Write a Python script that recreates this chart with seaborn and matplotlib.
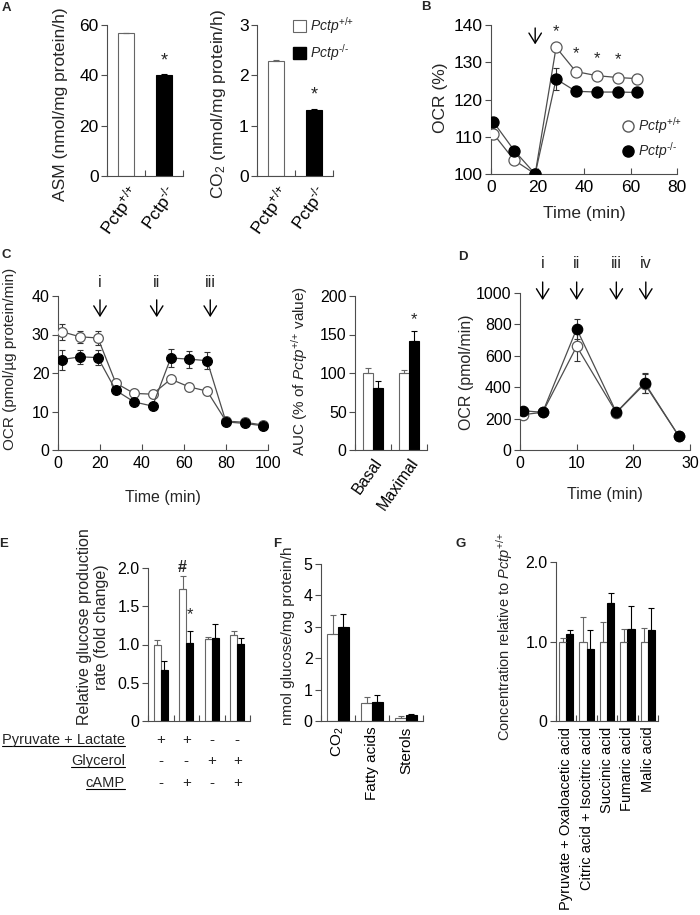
import matplotlib
matplotlib.use('Agg')
import matplotlib.pyplot as plt
import matplotlib.transforms as mtransforms
from matplotlib.lines import Line2D
from matplotlib.patches import Patch
import numpy as np
import pandas as pd
import seaborn as sns

sns.set_style('ticks')
plt.rcParams['font.family'] = ['Liberation Sans', 'DejaVu Sans']
plt.rcParams['mathtext.fontset'] = 'custom'
plt.rcParams['mathtext.rm'] = 'Liberation Sans'
plt.rcParams['mathtext.it'] = 'Liberation Sans:italic'
plt.rcParams['mathtext.bf'] = 'Liberation Sans:bold'
plt.rcParams['axes.edgecolor'] = '0.3'
plt.rcParams['axes.linewidth'] = 0.8
plt.rcParams['xtick.color'] = '0.3'
plt.rcParams['ytick.color'] = '0.3'
plt.rcParams['xtick.labelcolor'] = 'black'
plt.rcParams['ytick.labelcolor'] = 'black'

# ---- data ----
genotypes = [r'Pctp$^{\text{+/+}}$', r'Pctp$^{\text{-/-}}$']
legend_labels = [r'$\it{Pctp}^{\text{+/+}}$', r'$\it{Pctp}^{\text{-/-}}$']

# A
asm_mean = [56.7, 40.0]
asm_err = [0.3, 0.6]
co2_mean = [2.28, 1.32]
co2_err = [0.03, 0.02]

# B
b_time = [1, 10, 19, 28, 36.5, 45.5, 54.5, 63]
b_wt = [110.8, 103.7, 100, 134, 127.5, 126.4, 125.9, 125.6]
b_wt_err = [1.3, 0.6, 0.3, 0.6, 0.6, 0.6, 1.0, 1.3]
b_ko = [114, 106.3, 100, 125.5, 122.2, 122.0, 122.0, 121.9]
b_ko_err = [1.2, 0.8, 0.3, 3.0, 1.2, 0.6, 0.6, 1.0]

# C
c_time = [2, 10.5, 19, 27.5, 36.2, 45, 53.7, 62.4, 71, 80, 89, 97.5]
c_wt = [30.7, 29.4, 29.1, 17.4, 14.7, 14.5, 18.4, 16.4, 15.3, 7.5, 7.2, 6.5]
c_wt_err = [2.1, 1.5, 1.8, 0.8, 0.6, 0.6, 0.6, 0.6, 0.8, 0.5, 0.4, 0.4]
c_ko = [23.5, 24.2, 24.0, 15.5, 12.5, 11.4, 23.9, 23.6, 23.2, 7.3, 6.9, 6.3]
c_ko_err = [2.6, 1.8, 2.0, 0.8, 0.6, 0.6, 2.3, 2.2, 2.2, 0.6, 0.5, 0.5]
auc_groups = ['Basal', 'Maximal']
auc_wt = [100, 100]
auc_wt_err = [7, 4]
auc_ko = [81, 141]
auc_ko_err = [9, 14]

# D
d_time = [0.5, 4, 10, 17, 22, 28]
d_wt = [225, 240, 660, 238, 421, 90]
d_wt_err = [20, 10, 95, 10, 60, 10]
d_ko = [250, 240, 772, 240, 428, 90]
d_ko_err = [15, 10, 62, 10, 65, 10]

# E
e_groups = ['1', '2', '3', '4']
e_wt = [1.0, 1.73, 1.07, 1.12]
e_wt_err = [0.06, 0.16, 0.03, 0.05]
e_ko = [0.67, 1.02, 1.08, 1.01]
e_ko_err = [0.12, 0.15, 0.19, 0.08]
e_rows = ['Pyruvate + Lactate', 'Glycerol', 'cAMP']
e_table = [['+', '+', '-', '-'], ['-', '-', '+', '+'], ['-', '+', '-', '+']]

# F
f_groups = ['CO$_2$', 'Fatty acids', 'Sterols']
f_wt = [2.77, 0.57, 0.11]
f_wt_err = [0.62, 0.19, 0.06]
f_ko = [2.99, 0.62, 0.19]
f_ko_err = [0.41, 0.22, 0.04]

# G
g_groups = ['Pyruvate + Oxaloacetic acid', 'Citric acid + Isocitric acid',
            'Succinic acid', 'Fumaric acid', 'Malic acid']
g_wt = [1.0, 1.0, 1.0, 1.0, 1.0]
g_wt_err = [0.05, 0.31, 0.24, 0.16, 0.17]
g_ko = [1.09, 0.91, 1.49, 1.155, 1.14]
g_ko_err = [0.05, 0.23, 0.12, 0.29, 0.28]

W, H = 700, 915
fig = plt.figure(figsize=(7, 9.15), dpi=100)


def add_ax(x0, y0, x1, y1):
    return fig.add_axes([x0 / W, 1 - y1 / H, (x1 - x0) / W, (y1 - y0) / H])


def ftext(x, y, s, **kw):
    return fig.text(x / W, 1 - y / H, s, **kw)


def ylab(x, y, s, size=11.5):
    ftext(x, y, s, rotation=90, ha='center', va='center', fontsize=size)


def style(ax, size=11.5):
    sns.despine(ax=ax)
    ax.tick_params(axis='y', direction='out', length=4, width=0.8, labelsize=size, pad=2)
    ax.tick_params(axis='x', direction='in', length=4, width=0.8, labelsize=size, pad=4)
    ax.set_xlabel('')
    ax.set_ylabel('')


def add_errs(ax, errs, genos):
    for p, e, g in zip(ax.patches, errs, genos):
        c = '0.4' if g == 'wt' else 'black'
        p.set_edgecolor(c)
        ax.errorbar(p.get_x() + p.get_width() / 2, p.get_height(), yerr=[[0], [e]],
                    fmt='none', ecolor=c, elinewidth=0.8, capsize=2.5, capthick=0.8)


def cat_ticks(ax, n):
    ax.set_xlim(-0.5, n - 0.5)
    ax.set_xticks(np.arange(n + 1) - 0.5, minor=True)
    ax.tick_params(axis='x', which='minor', direction='in', length=4, width=0.8, color='0.3')
    ax.tick_params(axis='x', which='major', length=0)


def bars(ax, cats, wt, wt_err, ko, ko_err, width, size=11.5):
    n = len(cats)
    genos = ['wt'] * n + ['ko'] * n
    df = pd.DataFrame({'cat': cats * 2, 'value': wt + ko, 'geno': genos})
    sns.barplot(data=df, x='cat', y='value', hue='geno', order=cats, hue_order=['wt', 'ko'],
                palette={'wt': 'white', 'ko': 'black'}, width=width, errorbar=None,
                legend=False, linewidth=0.8, ax=ax)
    add_errs(ax, wt_err + ko_err, genos)
    style(ax, size)
    cat_ticks(ax, n)


def single_bars(ax, vals, errs):
    df = pd.DataFrame({'cat': genotypes, 'value': vals, 'geno': ['wt', 'ko']})
    sns.barplot(data=df, x='cat', y='value', hue='geno', order=genotypes,
                palette={'wt': 'white', 'ko': 'black'}, width=0.42, errorbar=None,
                legend=False, linewidth=0.8, ax=ax)
    add_errs(ax, errs, ['wt', 'ko'])
    style(ax, 12.5)
    cat_ticks(ax, 2)
    ax.set_xticks([0, 1])
    ax.set_xticklabels(genotypes, rotation=55, ha='right', rotation_mode='anchor', fontsize=12.5)


def lines(ax, t, wt, wt_err, ko, ko_err, ms):
    for y, e, fc, ec in [(wt, wt_err, 'white', '0.35'), (ko, ko_err, 'black', 'black')]:
        ax.errorbar(t, y, yerr=e, fmt='none', ecolor='0.2', elinewidth=0.8,
                    capsize=2.5, capthick=0.8, zorder=2)
        sns.lineplot(x=t, y=y, ax=ax, color='0.3', lw=0.9, marker='o', markersize=ms,
                     markerfacecolor=fc, markeredgecolor=ec, markeredgewidth=0.9,
                     errorbar=None, zorder=3)


def arrow(ax, x, y0, y1):
    ax.annotate('', xy=(x, y1), xytext=(x, y0), annotation_clip=False,
                arrowprops=dict(arrowstyle='->,head_length=0.45,head_width=0.28',
                                lw=1.0, color='black', mutation_scale=16, shrinkA=0, shrinkB=0))


# ---- A ----
axA1 = add_ax(107, 25, 183, 176)
single_bars(axA1, asm_mean, asm_err)
axA1.set_ylim(0, 60)
axA1.set_yticks([0, 20, 40, 60])
axA1.text(1, 45.6, '*', ha='center', va='center', fontsize=13)
ylab(60, 104, 'ASM (nmol/mg protein/h)', 12.5)

axA2 = add_ax(257, 25, 333, 176)
single_bars(axA2, co2_mean, co2_err)
axA2.set_ylim(0, 3)
axA2.set_yticks([0, 1, 2, 3])
axA2.text(1, 1.6, '*', ha='center', va='center', fontsize=13)
ylab(219, 104, 'CO$_2$ (nmol/mg protein/h)', 12.5)

fig.legend([Patch(facecolor='white', edgecolor='0.4', lw=0.8), Patch(facecolor='black', edgecolor='black')],
           legend_labels, loc='upper left', bbox_to_anchor=(293 / W, 1 - 15 / H), frameon=False,
           borderaxespad=0, borderpad=0, handlelength=0.9, handleheight=0.9,
           handletextpad=0.3, labelspacing=0.45, fontsize=10)

# ---- B ----
axB = add_ax(491, 25, 677, 174)
lines(axB, b_time, b_wt, b_wt_err, b_ko, b_ko_err, 8)
style(axB, 12.5)
axB.set_xlim(0, 80)
axB.set_ylim(100, 140)
axB.set_xticks([0, 20, 40, 60, 80])
axB.set_yticks([100, 110, 120, 130, 140])
axB.set_xlabel('Time (min)', fontsize=12.5, labelpad=8)
arrow(axB, 19, 139.2, 134.8)
for x, y in zip(b_time[3:7], [138.2, 132.4, 131.0, 130.6]):
    axB.text(x, y, '*', ha='center', va='center', fontsize=12)
ylab(440, 98, 'OCR (%)', 12.5)
axB.legend([Line2D([], [], ls='none', marker='o', ms=8, mfc='white', mec='0.35'),
            Line2D([], [], ls='none', marker='o', ms=8, mfc='black', mec='black')],
           legend_labels, loc='center left', bbox_to_anchor=(0.63, 0.24), frameon=False,
           handlelength=1.0, handletextpad=0.25, labelspacing=0.3, fontsize=10)

# ---- C ----
axC1 = add_ax(58, 296, 268, 450)
lines(axC1, c_time, c_wt, c_wt_err, c_ko, c_ko_err, 7)
style(axC1)
axC1.set_xlim(0, 100)
axC1.set_ylim(0, 40)
axC1.set_xticks([0, 20, 40, 60, 80, 100])
axC1.set_yticks([0, 10, 20, 30, 40])
axC1.set_xlabel('Time (min)', fontsize=11.5, labelpad=14)
for x, lab in zip([20, 47, 72.5], ['i', 'ii', 'iii']):
    arrow(axC1, x, 39.0, 34.5)
    axC1.text(x, 43.4, lab, ha='center', va='center', fontsize=11.5)
ylab(10, 359, 'OCR (pmol/µg protein/min)', 11)

axC2 = add_ax(355, 296, 427, 450)
bars(axC2, auc_groups, auc_wt, auc_wt_err, auc_ko, auc_ko_err, 0.56)
axC2.set_ylim(0, 200)
axC2.set_yticks([0, 50, 100, 150, 200])
axC2.set_xticks([0, 1])
axC2.set_xticklabels(auc_groups, rotation=55, ha='right', rotation_mode='anchor', fontsize=11.5)
axC2.text(1.14, 169, '*', ha='center', va='center', fontsize=12)
ylab(300, 371, r'AUC (% of $\it{Pctp}^{\text{+/+}}$ value)', 11)

# ---- D ----
axD = add_ax(520, 293, 690, 450)
lines(axD, d_time, d_wt, d_wt_err, d_ko, d_ko_err, 7.5)
style(axD)
axD.set_xlim(0, 30)
axD.set_ylim(0, 1000)
axD.set_xticks([0, 10, 20, 30])
axD.set_yticks([0, 200, 400, 600, 800, 1000])
axD.set_xlabel('Time (min)', fontsize=11.5, labelpad=12)
for x, lab in zip([4, 10, 17, 22.2], ['i', 'ii', 'iii', 'iv']):
    arrow(axD, x, 1070, 955)
    axD.text(x, 1191, lab, ha='center', va='center', fontsize=11.5)
ylab(467, 372, 'OCR (pmol/min)')

# ---- E ----
axE = add_ax(148, 568, 250, 721)
bars(axE, e_groups, e_wt, e_wt_err, e_ko, e_ko_err, 0.55)
axE.set_ylim(0, 2.0)
axE.set_yticks([0, 0.5, 1.0, 1.5, 2.0])
axE.set_yticklabels(['0', '0.5', '1.0', '1.5', '2.0'])
axE.set_xticklabels([])
axE.text(0.86, 2.01, '#', ha='center', va='center', fontsize=11.5, fontweight='bold')
axE.text(1.14, 1.39, '*', ha='center', va='center', fontsize=12)
ylab(93, 627, 'Relative glucose production\nrate (fold change)')
trE = mtransforms.blended_transform_factory(axE.transData, fig.transFigure)
row_texts = []
for row, sym, y in zip(e_rows, e_table, [740, 761, 783]):
    row_texts.append(ftext(125, y, row, ha='right', va='center', fontsize=10.5))
    for i, s in enumerate(sym):
        axE.text(i, 1 - y / H, s, transform=trE, ha='center', va='center', fontsize=11)

# ---- F ----
axF = add_ax(321, 564, 423, 721)
bars(axF, f_groups, f_wt, f_wt_err, f_ko, f_ko_err, 0.62)
axF.set_ylim(0, 5)
axF.set_yticks([0, 1, 2, 3, 4, 5])
axF.set_xticks([0, 1, 2])
axF.set_xticklabels(f_groups, rotation=90, fontsize=11)
ylab(288, 636, 'nmol glucose/mg protein/h', 11)

# ---- G ----
axG = add_ax(556, 562, 658, 721)
bars(axG, g_groups, g_wt, g_wt_err, g_ko, g_ko_err, 0.7)
axG.set_ylim(0, 2.0)
axG.set_yticks([0, 1.0, 2.0])
axG.set_yticklabels(['0', '1.0', '2.0'])
axG.set_xticks(range(5))
axG.set_xticklabels(g_groups, rotation=90, fontsize=10.5)
ylab(505, 637, r'Concentration relative to $\it{Pctp}^{\text{+/+}}$', 10.5)

# panel letters
for lab, x, y in [('A', 6, 8), ('B', 426, 7), ('C', 6, 255), ('D', 463, 257),
                  ('E', 4, 544), ('F', 277, 544), ('G', 461, 544)]:
    ftext(x, y, lab, ha='center', va='center', fontsize=9.5, fontweight='bold')

# underline the row labels in E
fig.canvas.draw()
renderer = fig.canvas.get_renderer()
inv = fig.transFigure.inverted()
for t in row_texts:
    bb = t.get_window_extent(renderer)
    (x0, y0), (x1, _) = inv.transform([(bb.x0, bb.y0), (bb.x1, bb.y1)])
    fig.add_artist(Line2D([x0, x1], [y0 + 0.001, y0 + 0.001], transform=fig.transFigure,
                          color='black', lw=0.8))

fig.savefig('out.png', dpi=100)
